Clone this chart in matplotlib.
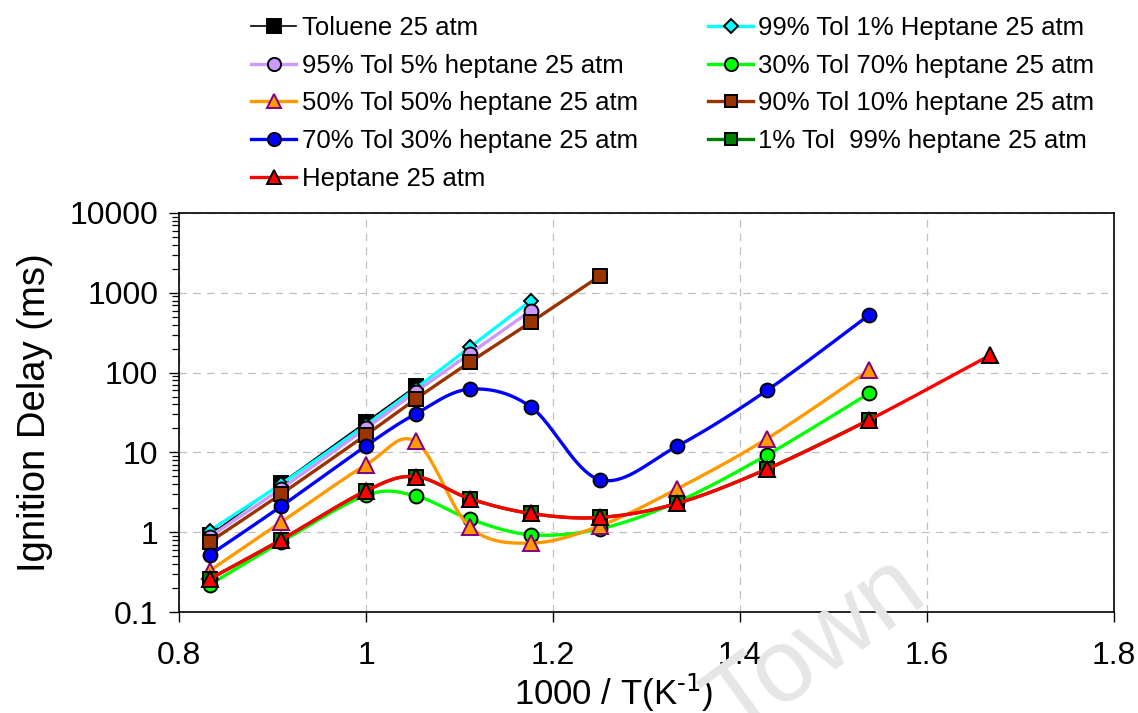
import numpy as np
import matplotlib
matplotlib.use("Agg")
import matplotlib.pyplot as plt
from matplotlib.ticker import LogLocator, FixedLocator, NullFormatter

plt.rcParams['font.family'] = ['Liberation Sans', 'DejaVu Sans']
plt.rcParams['mathtext.default'] = 'regular'

# 1000/T values (K^-1) for each measured temperature
x_full = [0.833, 0.909, 1.0, 1.053, 1.111, 1.176, 1.25, 1.333, 1.429, 1.538]

# Ignition delays (ms) for each mixture at 25 atm
toluene = [0.92, 4.1, 24.0, 67.0]
tol99 = [1.05, 4.0, 22.0, 63.0, 208.0, 790.0]
tol95 = [0.88, 3.5, 20.0, 57.0, 172.0, 594.0]
tol90 = [0.76, 3.0, 16.6, 46.5, 135.0, 426.0, 1618.0]
tol70 = [0.52, 2.1, 12.1, 30.3, 62.0, 37.4, 4.55, 12.0, 60.0, 527.0]
tol50 = [0.33, 1.33, 7.0, 13.7, 1.17, 0.73, 1.2, 3.5, 14.9, 107.0]
tol30 = [0.22, 0.75, 2.9, 2.85, 1.46, 0.93, 1.1, 2.4, 9.3, 55.0]
tol1 = [0.26, 0.80, 3.3, 4.97, 2.63, 1.72, 1.53, 2.3, 6.2, 25.5]
heptane = [0.26, 0.80, 3.3, 4.97, 2.63, 1.72, 1.53, 2.3, 6.2, 25.5, 164.0]
x_heptane = x_full + [1.667]

labels = ["Toluene 25 atm", "99% Tol 1% Heptane 25 atm", "95% Tol 5% heptane 25 atm",
          "30% Tol 70% heptane 25 atm", "50% Tol 50% heptane 25 atm",
          "90% Tol 10% heptane 25 atm", "70% Tol 30% heptane 25 atm",
          "1% Tol  99% heptane 25 atm", "Heptane 25 atm"]

# series drawing order (later ones on top)
series = [
    (x_full[:4], toluene, dict(color='black', lw=1.2, marker='s', mfc='black', mec='black', ms=10)),
    (x_full[:6], tol99, dict(color='#00FFFF', lw=2.4, marker='D', mfc='#00FFFF', mec='black', ms=7.5)),
    (x_full[:6], tol95, dict(color='#CC99FF', lw=2.4, marker='o', mfc='#CC99FF', mec='black', ms=10)),
    (x_full, tol30, dict(color='#00FF00', lw=2.4, marker='o', mfc='#00FF00', mec='black', ms=10)),
    (x_full, tol50, dict(color='#FF9900', lw=2.4, marker='^', mfc='#FF9900', mec='#800080', ms=11)),
    (x_full[:7], tol90, dict(color='#993300', lw=2.4, marker='s', mfc='#993300', mec='black', ms=9.5)),
    (x_full, tol70, dict(color='#0000FF', lw=2.4, marker='o', mfc='#0000FF', mec='black', ms=10)),
    (x_full, tol1, dict(color='#008000', lw=2.4, marker='s', mfc='#008000', mec='black', ms=9.5)),
    (x_heptane, heptane, dict(color='#FF0000', lw=2.4, marker='^', mfc='#FF0000', mec='black', ms=11)),
]


def smooth_curve(x, y, n=40):
    """Bezier smoothing through the points in (x, log10 y) space."""
    P = np.column_stack([np.asarray(x, float), np.log10(np.asarray(y, float))])
    if len(P) < 3:
        return P[:, 0], 10 ** P[:, 1]
    out = [P[0]]
    t = np.linspace(0, 1, n)[1:, None]
    for i in range(len(P) - 1):
        p0 = P[i - 1] if i > 0 else P[i]
        p1, p2 = P[i], P[i + 1]
        p3 = P[i + 2] if i + 2 < len(P) else P[i + 1]
        c1 = p1 + (p2 - p0) / 6.0
        c2 = p2 - (p3 - p1) / 6.0
        seg = ((1 - t) ** 3) * p1 + 3 * ((1 - t) ** 2) * t * c1 + 3 * (1 - t) * t ** 2 * c2 + t ** 3 * p2
        out.extend(seg)
    out = np.array(out)
    return out[:, 0], 10 ** out[:, 1]


fig = plt.figure(figsize=(11.38, 7.13), dpi=100)
ax = fig.add_axes([179 / 1138, 1 - 612 / 713, (1114 - 179) / 1138, (612 - 213) / 713])

handles = []
for k, (xs, ys, st) in enumerate(series):
    sx, sy = smooth_curve(xs, ys)
    ax.plot(sx, sy, color=st['color'], lw=st['lw'], zorder=3 + 2 * k, solid_capstyle='round')
    ax.plot(xs, ys, ls='none', marker=st['marker'], mfc=st['mfc'], mec=st['mec'],
            ms=st['ms'], mew=1.4, zorder=4 + 2 * k)
    h, = ax.plot([], [], color=st['color'], lw=st['lw'], marker=st['marker'],
                 mfc=st['mfc'], mec=st['mec'], ms=st['ms'] * 0.95, mew=1.4)
    handles.append(h)

ax.set_yscale('log')
ax.set_xlim(0.8, 1.8)
ax.set_ylim(0.1, 10000)
ax.xaxis.set_major_locator(FixedLocator([0.8, 1.0, 1.2, 1.4, 1.6, 1.8]))
ax.set_xticklabels(['0.8', '1', '1.2', '1.4', '1.6', '1.8'])
ax.yaxis.set_major_locator(FixedLocator([0.1, 1, 10, 100, 1000, 10000]))
ax.set_yticklabels(['0.1', '1', '10', '100', '1000', '10000'])
ax.yaxis.set_minor_locator(LogLocator(base=10, subs=np.arange(2, 10), numticks=20))
ax.yaxis.set_minor_formatter(NullFormatter())

ax.grid(True, which='major', color='#c0c0c0', lw=0.9, ls=(0, (6, 5)), zorder=1)
ax.tick_params(axis='both', which='major', labelsize=23, direction='out', length=7, width=1)
ax.tick_params(axis='y', which='minor', direction='out', length=5, width=0.9)
ax.tick_params(axis='x', pad=14)
ax.tick_params(axis='y', pad=8)
for s in ax.spines.values():
    s.set_linewidth(1.2)

ax.set_ylabel('Ignition Delay (ms)', fontsize=27.5, labelpad=12)
ax.set_xlabel(r'1000 / T(K$^{\text{-1}}$)', fontsize=25, labelpad=0)
ax.xaxis.set_label_coords(0.465, -0.15)

# legend above the plot, two columns
order = [0, 2, 4, 6, 8, 1, 3, 5, 7]
leg = fig.legend([handles[i] for i in order], [labels[i] for i in order],
                 ncol=2, loc='upper left', bbox_to_anchor=(236 / 1138, 0.999),
                 frameon=False, fontsize=18.5, handlelength=1.75, handletextpad=0.2,
                 columnspacing=2.75, labelspacing=0.53, borderaxespad=0.2)

fig.text(818 / 1138, 1 - 648 / 713, 'Town', fontsize=74, color='#e6e6e6',
         rotation=36, ha='center', va='center', zorder=0)

fig.savefig('out.png', dpi=100)
